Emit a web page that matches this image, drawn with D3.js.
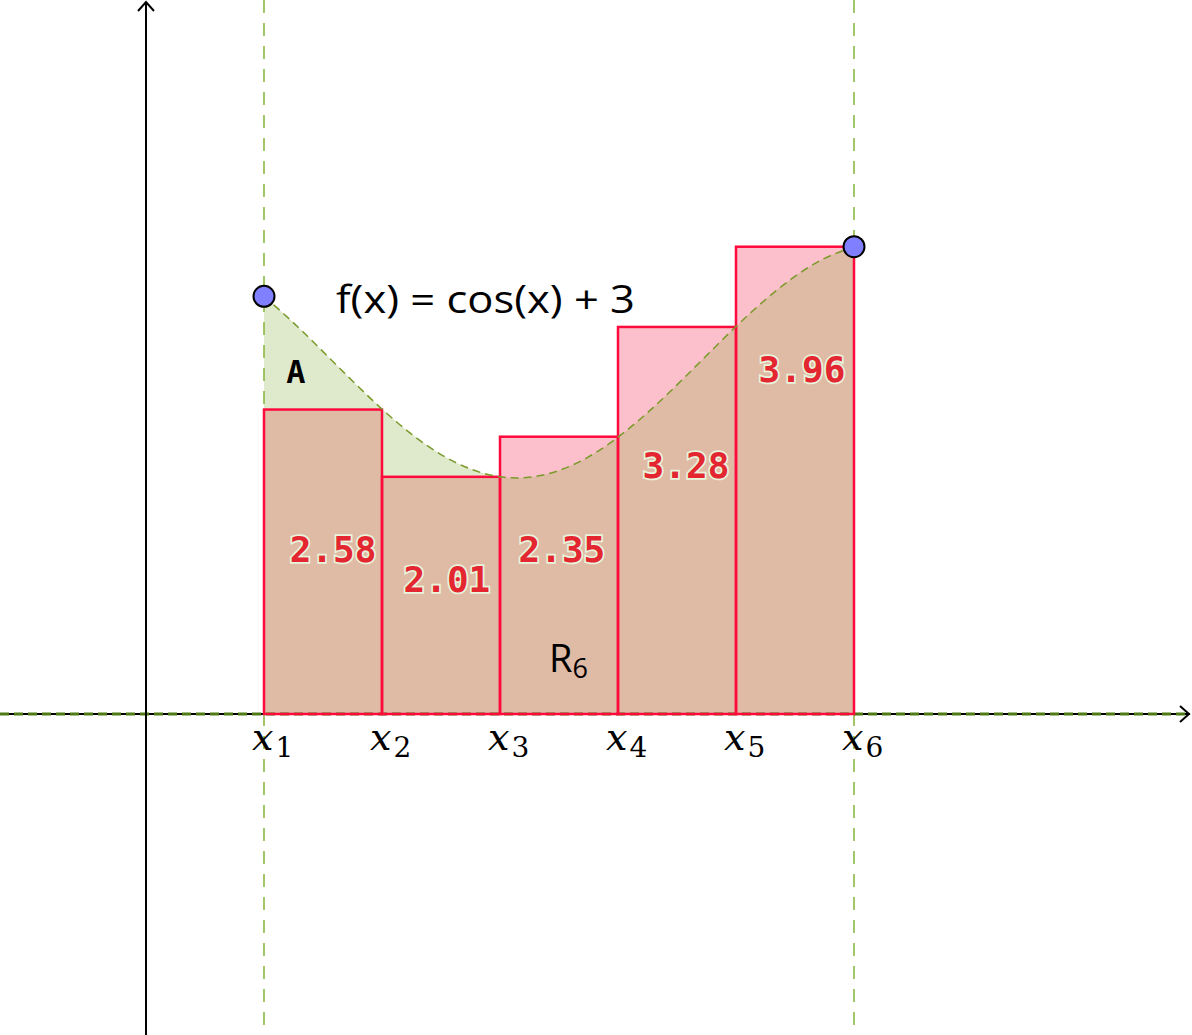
<!DOCTYPE html>
<html>
<head>
<meta charset="utf-8">
<script src="https://cdn.jsdelivr.net/npm/d3@7"></script>
<style>
  html, body { margin: 0; padding: 0; background: #fff; }
  svg { display: block; }
</style>
</head>
<body>
<div id="chart"></div>
<script>
// Partition points and right-endpoint rectangle heights
const nodes = [1, 2, 3, 4, 5, 6];
const nodeLabels = ["1", "2", "3", "4", "5", "6"];
const rectHeights = [2.58, 2.01, 2.35, 3.28, 3.96];
const rectLabels = ["2.58", "2.01", "2.35", "3.28", "3.96"];

// Curve f(x) = cos(x) + 3
const curveX = [1, 1.25, 1.5, 1.75, 2, 2.25, 2.5, 2.75, 3, 3.25, 3.5, 3.75, 4, 4.25, 4.5, 4.75, 5, 5.25, 5.5, 5.75, 6];
const curveY = [3.54, 3.315, 3.071, 2.822, 2.584, 2.372, 2.199, 2.076, 2.01, 2.006, 2.064, 2.179, 2.346, 2.554, 2.789, 3.038, 3.284, 3.512, 3.709, 3.861, 3.96];

// Where the value labels sit (data coords: centre x, baseline y)
const labelX = [1.585, 2.55, 3.525, 4.576, 5.559];
const labelY = [1.288, 1.034, 1.288, 2.0, 2.814];

const width = 1192, height = 1035;

const svg = d3.select('#chart')
    .append('svg')
    .attr('width', width)
    .attr('height', height);

// one unit = 118px, origin at (146, 714)
const x = d3.scaleLinear().domain([0, 1]).range([146, 264]);
const y = d3.scaleLinear().domain([0, 1]).range([714, 596]);

const curve = curveX.map((d, i) => [d, curveY[i]]);

const area = d3.area()
    .x(d => x(d[0]))
    .y0(y(0))
    .y1(d => y(d[1]))
    .curve(d3.curveNatural);

const line = d3.line()
    .x(d => x(d[0]))
    .y(d => y(d[1]))
    .curve(d3.curveNatural);

const rects = rectHeights.map((h, i) => ({ x0: nodes[i], x1: nodes[i + 1], h: h }));

// clip path made of the rectangles
const defs = svg.append('defs');
defs.append('clipPath')
    .attr('id', 'rect-clip')
    .selectAll('rect')
    .data(rects)
    .enter()
    .append('rect')
    .attr('x', d => x(d.x0))
    .attr('y', d => y(d.h))
    .attr('width', d => x(d.x1) - x(d.x0))
    .attr('height', d => y(0) - y(d.h));

// area under the curve (green)
svg.append('path')
    .attr('d', area(curve))
    .attr('fill', '#dfe9cc');

// rectangles fill (pink)
svg.selectAll('.rect-fill')
    .data(rects)
    .enter()
    .append('rect')
    .attr('class', 'rect-fill')
    .attr('x', d => x(d.x0))
    .attr('y', d => y(d.h))
    .attr('width', d => x(d.x1) - x(d.x0))
    .attr('height', d => y(0) - y(d.h))
    .attr('fill', '#fcc0cc');

// overlap of area and rectangles (tan)
svg.append('path')
    .attr('d', area(curve))
    .attr('clip-path', 'url(#rect-clip)')
    .attr('fill', '#dfbaa5');

// vertical dashed lines at the interval ends
svg.selectAll('.bound')
    .data([nodes[0], nodes[nodes.length - 1]])
    .enter()
    .append('line')
    .attr('class', 'bound')
    .attr('x1', d => x(d))
    .attr('x2', d => x(d))
    .attr('y1', 0)
    .attr('y2', height)
    .attr('stroke', '#8cba45')
    .attr('stroke-width', 1.6)
    .attr('stroke-dasharray', '13,10');

// axes
svg.append('line')
    .attr('x1', 0).attr('x2', width - 2)
    .attr('y1', y(0)).attr('y2', y(0))
    .attr('stroke', '#000').attr('stroke-width', 2);
svg.append('line')
    .attr('x1', 0).attr('x2', width - 6)
    .attr('y1', y(0)).attr('y2', y(0))
    .attr('stroke', '#4f7a14').attr('stroke-width', 3)
    .attr('stroke-dasharray', '9,5');
svg.append('path')
    .attr('d', `M${width - 12},${y(0) - 8}L${width - 3},${y(0)}L${width - 12},${y(0) + 8}`)
    .attr('fill', 'none').attr('stroke', '#000').attr('stroke-width', 2);

svg.append('line')
    .attr('x1', x(0)).attr('x2', x(0))
    .attr('y1', height).attr('y2', 2)
    .attr('stroke', '#000').attr('stroke-width', 2);
svg.append('path')
    .attr('d', `M${x(0) - 8},${11}L${x(0)},${2}L${x(0) + 8},${11}`)
    .attr('fill', 'none').attr('stroke', '#000').attr('stroke-width', 2);

// rectangle outlines
svg.selectAll('.rect-edge')
    .data(rects)
    .enter()
    .append('rect')
    .attr('class', 'rect-edge')
    .attr('x', d => x(d.x0))
    .attr('y', d => y(d.h))
    .attr('width', d => x(d.x1) - x(d.x0))
    .attr('height', d => y(0) - y(d.h))
    .attr('fill', 'none')
    .attr('stroke', '#ff0a3c')
    .attr('stroke-width', 2.5);

// the curve itself
svg.append('path')
    .attr('d', line(curve))
    .attr('fill', 'none')
    .attr('stroke', '#7a9a2a')
    .attr('stroke-width', 1.5)
    .attr('stroke-dasharray', '8,5');

// end points
svg.selectAll('.pt')
    .data([curve[0], curve[curve.length - 1]])
    .enter()
    .append('circle')
    .attr('class', 'pt')
    .attr('cx', d => x(d[0]))
    .attr('cy', d => y(d[1]))
    .attr('r', 10.5)
    .attr('fill', '#7f7fff')
    .attr('stroke', '#000')
    .attr('stroke-width', 2);

// value labels
svg.selectAll('.val')
    .data(rectLabels)
    .enter()
    .append('text')
    .attr('class', 'val')
    .attr('x', (d, i) => x(labelX[i]))
    .attr('y', (d, i) => y(labelY[i]))
    .attr('text-anchor', 'middle')
    .style('font-family', '"DejaVu Sans Mono", monospace')
    .style('font-weight', 'bold')
    .style('font-size', '36px')
    .style('fill', '#e3262f')
    .style('stroke', '#e8f4dc')
    .style('stroke-width', '3.5px')
    .style('paint-order', 'stroke')
    .text(d => d);

// function label
svg.append('text')
    .attr('x', x(1.61))
    .attr('y', y(3.398))
    .style('font-family', '"Open Sans", sans-serif')
    .style('font-size', '38px')
    .attr('textLength', 299)
    .attr('lengthAdjust', 'spacingAndGlyphs')
    .text('f(x) = cos(x) + 3');

// area label
svg.append('text')
    .attr('x', x(1.271))
    .attr('y', y(2.805))
    .attr('text-anchor', 'middle')
    .style('font-family', '"DejaVu Sans Mono", monospace')
    .style('font-weight', 'bold')
    .style('font-size', '32px')
    .text('A');

// sum label R_6
const r6 = svg.append('text')
    .attr('x', x(3.415))
    .attr('y', y(0.356))
    .style('font-family', '"Open Sans", sans-serif')
    .style('font-size', '38px');
r6.append('tspan').text('R');
r6.append('tspan')
    .attr('dy', 6)
    .style('font-size', '27px')
    .text('6');

// node labels x_i
const nl = svg.selectAll('.node')
    .data(nodes)
    .enter()
    .append('text')
    .attr('class', 'node')
    .attr('x', d => x(d) - 12)
    .attr('y', y(0) + 36);
nl.append('tspan')
    .style('font-family', '"DejaVu Serif", "Liberation Serif", serif')
    .style('font-style', 'italic')
    .style('font-size', '38px')
    .text('x');
nl.append('tspan')
    .attr('dy', 7)
    .attr('dx', 2)
    .style('font-family', '"DejaVu Serif", "Liberation Serif", serif')
    .style('font-size', '28px')
    .text((d, i) => nodeLabels[i]);
</script>
</body>
</html>
